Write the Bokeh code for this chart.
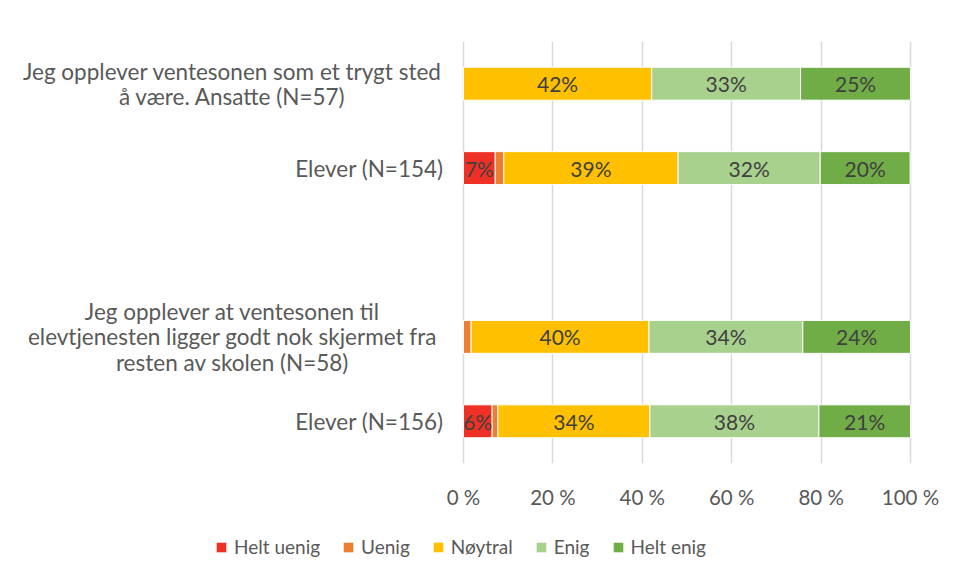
from bokeh.plotting import figure
from bokeh.layouts import column
from bokeh.models import ColumnDataSource, FactorRange, Range1d, Legend, LegendItem, FixedTicker
from bokeh.core.properties import value
from bokeh.embed import file_html
from bokeh.resources import INLINE

# ---- data ----
rows = ["Jeg opplever ventesonen som et trygt sted\nå være. Ansatte (N=57)",
        "Elever (N=154)",
        "Jeg opplever at ventesonen til\nelevtjenesten ligger godt nok skjermet fra\nresten av skolen (N=58)",
        "Elever (N=156)"]
spacer = " "
series = ["Helt uenig", "Uenig", "Nøytral", "Enig", "Helt enig"]
helt_uenig = [0.0, 7.1, 0.0, 6.4]
uenig = [0.0, 1.9, 1.7, 1.3]
noytral = [42.1, 39.0, 39.8, 34.0]
enig = [33.3, 31.8, 34.4, 37.8]
helt_enig = [24.6, 20.1, 24.1, 20.5]
colors = ["#EE3124", "#ED7D31", "#FFC000", "#A9D18E", "#70AD47"]
x_ticks = [0, 20, 40, 60, 80, 100]
label_min = 5.0

FONT = "Lato"
TXT = "#595959"

factors = [rows[3], rows[2], spacer, rows[1], rows[0]]
keys = ["hu", "u", "n", "e", "he"]
vals = [helt_uenig, uenig, noytral, enig, helt_enig]
src = ColumnDataSource(dict(y=rows, **{k: v for k, v in zip(keys, vals)}))

p = figure(width=950, height=518, y_range=FactorRange(factors=factors, range_padding=0),
           x_range=Range1d(-102.46, 107.6), output_backend="svg", toolbar_location=None,
           min_border_left=5, min_border_right=6, min_border_top=41, min_border_bottom=55)
p.outline_line_color = None

rs = p.hbar_stack(keys, y="y", height=0.39, color=colors, source=src,
                  line_color="white", line_width=1)

# segment labels
lx, ly, lt = [], [], []
for i, r in enumerate(rows):
    cum = 0.0
    for v in vals:
        val = v[i]
        if val >= label_min:
            lx.append(cum + val / 2)
            ly.append(r)
            lt.append(f"{int(val + 0.5)}%")
        cum += val
p.text(x=lx, y=ly, text=lt, text_align="center", text_baseline="middle",
       text_font=value(FONT), text_font_size="21px", text_color="#404040")

# row labels (left of the 0 line)
q_rows = [r for r in rows if "\n" in r]
e_rows = [r for r in rows if "\n" not in r]
p.text(x=[-51.7] * len(q_rows), y=q_rows, text=q_rows, text_align="center",
       text_baseline="middle", text_font=value(FONT), text_font_size="22.5px",
       text_color=TXT, text_line_height=0.93)
p.text(x=[-4.47] * len(e_rows), y=e_rows, text=e_rows, text_align="right",
       text_baseline="middle", text_font=value(FONT), text_font_size="22.5px",
       text_color=TXT)

p.yaxis.visible = False

p.xaxis.ticker = FixedTicker(ticks=x_ticks)
p.xaxis.major_label_overrides = {t: f"{t} %" for t in x_ticks}
p.xaxis.axis_line_color = None
p.xaxis.major_tick_line_color = None
p.xaxis.major_tick_out = 0
p.xaxis.major_label_standoff = 21
p.xaxis.major_label_text_font = FONT
p.xaxis.major_label_text_font_size = "20.5px"
p.xaxis.major_label_text_color = TXT

p.ygrid.grid_line_color = None
p.xgrid.ticker = FixedTicker(ticks=x_ticks)
p.xgrid.grid_line_color = "#d9d9d9"
p.xgrid.grid_line_width = 1.5

# legend strip: same series with zero-height bars, used only for the legend swatches
lg = figure(width=950, height=57, y_range=FactorRange(factors=factors),
            x_range=Range1d(0, 100), output_backend="svg", toolbar_location=None,
            x_axis_location=None, y_axis_location=None,
            min_border_left=0, min_border_right=0, min_border_top=0, min_border_bottom=0)
lg.outline_line_color = None
lg.xgrid.visible = False
lg.ygrid.visible = False
lrs = lg.hbar_stack(keys, y="y", height=0, color=colors, source=src, line_color=None)

legend = Legend(items=[LegendItem(label=s, renderers=[r]) for s, r in zip(series, lrs)],
                orientation="horizontal", location=(210, 17),
                label_text_font=FONT, label_text_font_size="19px", label_text_color=TXT,
                glyph_width=12, glyph_height=12, spacing=22, label_standoff=7,
                border_line_color=None, background_fill_alpha=0, padding=0, margin=0)
lg.add_layout(legend, "center")

layout = column(p, lg, spacing=0)
open("out.html", "w").write(file_html(layout, INLINE))
